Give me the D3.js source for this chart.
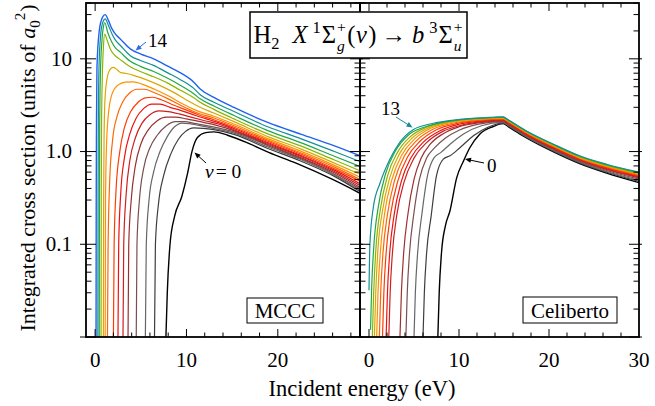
<!DOCTYPE html>
<html>
<head>
<meta charset="UTF-8">
<style>
  body { margin: 0; background: #fff; }
  text { font-family: 'Liberation Serif', 'Times New Roman', serif; fill: #000; }
</style>
</head>
<body>
<svg id="chart" width="655" height="406"></svg>
<script src="https://d3js.org/d3.v7.min.js"></script>
<script>
// colours for v = 0 .. 14
const vibColors = ["#000000", "#3d3d3d", "#666666", "#7a4f4f", "#9b3030", "#cc1f1f", "#ee1111",
  "#ff3c00", "#ff6600", "#ff9000", "#d8a800", "#8cb400", "#22a844", "#138f95", "#1f63f0"];

// MCCC, v = 0 .. 14 : incident energy (eV) and cross section (a0^2)
const mcccEnergy = [
  [7.75, 7.9, 8.2, 8.7, 9.5, 10.1, 10.6, 11.2, 12.1, 13.0, 14.5, 17, 19, 22, 26, 29],
  [6.5, 6.6, 6.95, 7.5, 8.3, 9.1, 9.9, 10.8, 11.8, 13, 15.2, 18.9, 22.5, 26.2, 29],
  [5.5, 5.6, 5.9, 6.4, 7.1, 7.9, 8.7, 9.5, 10.3, 11.5, 12.7, 15.2, 18.9, 22.5, 26.2, 29],
  [4.5, 4.58, 4.85, 5.3, 6.0, 6.8, 7.8, 8.8, 9.8, 11, 12.5, 15.2, 18.9, 22.5, 26.2, 29],
  [3.6, 3.68, 3.95, 4.4, 5.0, 5.8, 6.8, 7.8, 8.8, 10, 11.5, 13, 15.2, 18.9, 22.5, 26.2, 29],
  [3.05, 3.13, 3.4, 3.8, 4.4, 5.1, 6.0, 7.0, 8.0, 9.2, 10.5, 12, 13.5, 15.2, 18.9, 22.5, 26.2, 29],
  [2.5, 2.58, 2.8, 3.2, 3.8, 4.5, 5.3, 6.2, 7.1, 8.2, 9.5, 11, 12.5, 13.5, 15.2, 18.9, 22.5, 26.2, 29],
  [2.0, 2.08, 2.3, 2.7, 3.2, 3.9, 4.7, 5.5, 6.3, 7.3, 8.5, 10, 11.5, 13, 15.2, 18.9, 22.5, 26.2, 29],
  [1.35, 1.42, 1.6, 1.9, 2.4, 3.0, 3.8, 4.6, 5.4, 6.5, 8, 9.5, 11, 13, 15.2, 18.9, 22.5, 26.2, 29],
  [1.1, 1.14, 1.25, 1.5, 1.9, 2.5, 3.3, 4.2, 5.2, 6.5, 8, 9.5, 11, 13, 15.2, 18.9, 22.5, 26.2, 29],
  [0.9, 0.93, 0.98, 1.1, 1.4, 1.75, 2.0, 2.35, 2.8, 3.4, 4.3, 5.5, 7, 8.5, 10, 11.5, 13, 15.2, 18.9, 22.5, 26.2, 29],
  [0.65, 0.67, 0.7, 0.78, 0.9, 1.05, 1.3, 1.7, 2.2, 2.75, 3.85, 4.95, 6.4, 7.9, 9.3, 10.8, 11.5, 13, 15.2, 18.9, 22.5, 26.2, 29],
  [0.45, 0.47, 0.5, 0.58, 0.75, 0.9, 1.05, 1.4, 1.85, 2.2, 2.75, 3.85, 4.95, 6.4, 7.9, 9.3, 10.8, 11.5, 13, 15.2, 18.9, 22.5, 26.2, 29],
  [0.3, 0.32, 0.35, 0.42, 0.6, 0.85, 1.1, 1.45, 1.85, 2.2, 2.75, 3.85, 4.95, 6.4, 7.9, 9.3, 10.8, 11.5, 13, 15.2, 18.9, 22.5, 26.2, 29],
  [0.1, 0.12, 0.15, 0.2, 0.45, 0.8, 1.1, 1.45, 1.85, 2.2, 2.75, 3.85, 4.95, 6.4, 7.9, 9.3, 10.8, 11.5, 13, 15.2, 18.9, 22.5, 26.2, 29]
];
const mcccSigma = [
  [0.01, 0.03, 0.1, 0.2, 0.33, 0.57, 1.0, 1.42, 1.6, 1.63, 1.5, 1.2, 0.98, 0.75, 0.5, 0.355],
  [0.01, 0.1, 0.28, 0.55, 0.95, 1.35, 1.65, 1.8, 1.78, 1.72, 1.53, 1.08, 0.79, 0.54, 0.37],
  [0.01, 0.1, 0.3, 0.6, 1.0, 1.45, 1.85, 2.03, 2.0, 1.9, 1.8, 1.58, 1.12, 0.82, 0.555, 0.38],
  [0.01, 0.1, 0.3, 0.65, 1.1, 1.5, 1.9, 2.1, 2.1, 2.0, 1.88, 1.63, 1.16, 0.84, 0.57, 0.395],
  [0.01, 0.1, 0.3, 0.7, 1.2, 1.7, 2.15, 2.35, 2.35, 2.25, 2.1, 1.95, 1.68, 1.19, 0.86, 0.59, 0.41],
  [0.01, 0.1, 0.35, 0.8, 1.4, 2.0, 2.5, 2.75, 2.7, 2.55, 2.35, 2.15, 1.98, 1.72, 1.22, 0.89, 0.61, 0.43],
  [0.01, 0.1, 0.35, 0.85, 1.55, 2.3, 2.9, 3.25, 3.25, 3.0, 2.75, 2.45, 2.2, 2.05, 1.77, 1.25, 0.91, 0.63, 0.45],
  [0.01, 0.1, 0.4, 1.0, 1.8, 2.7, 3.4, 3.8, 3.85, 3.6, 3.2, 2.8, 2.45, 2.2, 1.83, 1.29, 0.94, 0.65, 0.48],
  [0.01, 0.1, 0.5, 1.3, 2.4, 3.4, 4.3, 4.7, 4.7, 4.3, 3.7, 3.1, 2.65, 2.3, 1.9, 1.33, 0.97, 0.68, 0.5],
  [0.01, 0.3, 1.2, 2.8, 4.3, 5.2, 5.6, 5.65, 5.3, 4.7, 4.0, 3.3, 2.8, 2.4, 1.98, 1.38, 1.01, 0.71, 0.53],
  [0.01, 0.3, 1.5, 4, 6.8, 7.9, 8.1, 7.7, 7.1, 6.95, 6.6, 6.0, 5.2, 4.4, 3.6, 3.0, 2.6, 2.1, 1.45, 1.07, 0.75, 0.57],
  [0.01, 0.3, 1.8, 6, 13, 18.5, 16, 12.5, 10.8, 9.8, 8.2, 7.3, 6.4, 5.5, 4.6, 3.8, 3.4, 2.85, 2.25, 1.55, 1.15, 0.81, 0.62],
  [0.01, 0.3, 2, 7, 16, 22, 24.5, 19, 15, 13.2, 11.8, 9.4, 8.3, 7.3, 6.2, 5.2, 4.2, 3.7, 3.1, 2.45, 1.68, 1.25, 0.89, 0.69],
  [0.01, 0.3, 2, 8, 18, 25, 27, 23, 18.5, 16, 14, 10.8, 9.6, 8.5, 7.1, 6.0, 4.8, 4.1, 3.4, 2.7, 1.85, 1.38, 1.0, 0.78],
  [0.01, 0.3, 2.1, 8, 20, 28, 30, 26, 21, 18.6, 16.4, 12.8, 11.3, 10, 8.4, 7.1, 5.6, 4.72, 3.84, 2.99, 2.06, 1.54, 1.15, 0.9]
];

// Celiberto, v = 0 .. 13
const celEnergy = [
  [7.65, 7.8, 8.05, 8.5, 9.0, 9.74, 10.5, 11.2, 12.3, 13.8, 14.9, 15.5, 17.5, 20.5, 23.4, 26.4, 30],
  [6.0, 6.15, 6.4, 6.9, 7.5, 8.26, 9.0, 10.1, 11.6, 13.2, 14.9, 15.5, 17.5, 20.5, 23.4, 26.4, 30],
  [5.0, 5.15, 5.4, 5.9, 6.5, 7.2, 8.0, 9.0, 10.5, 12.5, 14.9, 15.5, 17.5, 20.5, 23.4, 26.4, 30],
  [4.1, 4.25, 4.5, 5.0, 5.6, 6.4, 7.3, 8.5, 10, 12.2, 14.9, 15.5, 17.5, 20.5, 23.4, 26.4, 30],
  [3.44, 3.6, 3.85, 4.35, 5.0, 5.8, 6.8, 8.2, 10, 12.3, 14.9, 15.5, 17.5, 20.5, 23.4, 26.4, 30],
  [2.2, 2.35, 2.6, 3.1, 3.9, 5.0, 6.4, 8.2, 10.3, 12.6, 14.9, 15.5, 17.5, 20.5, 23.4, 26.4, 30],
  [1.9, 2.05, 2.3, 2.8, 3.6, 4.7, 6.1, 7.9, 10, 12.5, 14.9, 15.5, 17.5, 20.5, 23.4, 26.4, 30],
  [1.5, 1.65, 1.9, 2.4, 3.2, 4.3, 5.7, 7.5, 9.7, 12.3, 14.9, 15.5, 17.5, 20.5, 23.4, 26.4, 30],
  [1.15, 1.3, 1.55, 2.05, 2.85, 3.95, 5.35, 7.15, 9.4, 12.2, 14.9, 15.5, 17.5, 20.5, 23.4, 26.4, 30],
  [0.85, 1.0, 1.25, 1.75, 2.55, 3.65, 5.05, 6.85, 9.1, 12, 14.9, 15.5, 17.5, 20.5, 23.4, 26.4, 30],
  [0.6, 0.75, 1.0, 1.5, 2.3, 3.4, 4.8, 6.6, 8.9, 11.9, 14.9, 15.5, 17.5, 20.5, 23.4, 26.4, 30],
  [0.37, 0.52, 0.77, 1.27, 2.07, 3.17, 4.57, 6.4, 8.7, 11.8, 14.9, 15.5, 17.5, 20.5, 23.4, 26.4, 30],
  [0.17, 0.3, 0.55, 1.05, 1.85, 2.95, 4.35, 6.2, 8.6, 11.7, 14.9, 15.5, 17.5, 20.5, 23.4, 26.4, 30],
  [0.0, 0.1, 0.48, 1.2, 2.3, 3.4, 4.9, 7.15, 10.1, 13.8, 14.9, 15.5, 17.5, 20.5, 23.4, 26.4, 30]
];
const celSigma = [
  [0.01, 0.03, 0.08, 0.16, 0.23, 0.52, 0.79, 1.1, 1.54, 1.86, 2.0, 1.85, 1.4, 0.99, 0.74, 0.585, 0.462],
  [0.01, 0.03, 0.08, 0.2, 0.55, 0.83, 0.9, 1.1, 1.48, 1.83, 2.03, 1.88, 1.425, 1.01, 0.755, 0.598, 0.477],
  [0.01, 0.03, 0.08, 0.22, 0.55, 0.85, 0.98, 1.2, 1.55, 1.9, 2.06, 1.905, 1.445, 1.03, 0.77, 0.61, 0.49],
  [0.01, 0.03, 0.08, 0.22, 0.5, 0.85, 1.1, 1.4, 1.7, 1.98, 2.1, 1.94, 1.475, 1.05, 0.785, 0.625, 0.505],
  [0.01, 0.03, 0.08, 0.22, 0.5, 0.85, 1.2, 1.55, 1.85, 2.05, 2.14, 1.98, 1.5, 1.07, 0.8, 0.64, 0.52],
  [0.01, 0.03, 0.08, 0.21, 0.47, 0.85, 1.25, 1.65, 1.93, 2.1, 2.18, 2.015, 1.53, 1.09, 0.815, 0.65, 0.53],
  [0.01, 0.03, 0.08, 0.21, 0.48, 0.87, 1.28, 1.68, 1.97, 2.14, 2.21, 2.045, 1.555, 1.11, 0.825, 0.665, 0.54],
  [0.01, 0.03, 0.08, 0.21, 0.48, 0.88, 1.3, 1.72, 2.0, 2.17, 2.24, 2.07, 1.575, 1.125, 0.84, 0.675, 0.55],
  [0.01, 0.03, 0.08, 0.21, 0.49, 0.9, 1.33, 1.75, 2.03, 2.2, 2.27, 2.1, 1.595, 1.14, 0.85, 0.685, 0.56],
  [0.01, 0.03, 0.08, 0.22, 0.5, 0.92, 1.36, 1.78, 2.06, 2.22, 2.29, 2.12, 1.61, 1.155, 0.86, 0.695, 0.57],
  [0.01, 0.03, 0.09, 0.23, 0.52, 0.95, 1.4, 1.8, 2.08, 2.24, 2.31, 2.14, 1.625, 1.165, 0.87, 0.705, 0.578],
  [0.01, 0.03, 0.09, 0.24, 0.55, 0.98, 1.44, 1.83, 2.1, 2.26, 2.33, 2.155, 1.64, 1.18, 0.88, 0.715, 0.585],
  [0.012, 0.035, 0.1, 0.26, 0.58, 1.02, 1.5, 1.84, 2.1, 2.28, 2.35, 2.175, 1.655, 1.19, 0.89, 0.72, 0.59],
  [0.032, 0.1, 0.25, 0.45, 0.82, 1.25, 1.72, 2.02, 2.22, 2.33, 2.37, 2.19, 1.67, 1.2, 0.9, 0.73, 0.6]
];

const yTickValues = [0.1, 1, 10];
const yTickLabels = ["0.1", "1.0", "10"];
const xTicksLeft = [0, 10, 20];
const xTicksRight = [0, 10, 20, 30];

const svg = d3.select("#chart");
const plotTop = 3, plotBottom = 337;
const y = d3.scaleLog().domain([0.01, 40]).range([plotBottom, plotTop]);
const xL = d3.scaleLinear().domain([-1, 29]).range([86, 360]);
const xR = d3.scaleLinear().domain([-1, 30]).range([360, 639]);

const defs = svg.append("defs");
function clip(id, x) {
  defs.append("clipPath").attr("id", id).append("rect")
    .attr("x", x.range()[0]).attr("y", plotTop).attr("width", x.range()[1] - x.range()[0]).attr("height", plotBottom - plotTop);
}
clip("clipL", xL);
clip("clipR", xR);

function drawCurves(x, energies, sigmas, clipId) {
  const line = d3.line().x(d => x(d[0])).y(d => y(d[1])).curve(d3.curveMonotoneX);
  const g = svg.append("g").attr("clip-path", `url(#${clipId})`);
  energies.forEach((es, v) => {
    const pts = es.map((e, k) => [e, sigmas[v][k]]);
    g.append("path").attr("d", line(pts))
      .attr("fill", "none").attr("stroke", vibColors[v])
      .attr("stroke-width", v === 0 || v === vibColors.length - 1 ? 1.4 : 1.2);
  });
}
drawCurves(xL, mcccEnergy, mcccSigma, "clipL");
drawCurves(xR, celEnergy, celSigma, "clipR");

// frames and ticks
const yTicks = y.ticks();
function frame(x, xMax, leftOuter) {
  const [x0, x1] = x.range();
  const g = svg.append("g").attr("stroke", "#000");
  yTicks.forEach(t => {
    const major = Math.abs(Math.log10(t) - Math.round(Math.log10(t))) < 1e-6;
    const len = major ? 10 : 5.5;
    g.append("line").attr("x1", x0 - (major && leftOuter ? 6 : 0)).attr("x2", x0 + len)
      .attr("y1", y(t)).attr("y2", y(t)).attr("stroke-width", 1);
    g.append("line").attr("x1", x1 - len).attr("x2", x1 + (major ? 3 : 0))
      .attr("y1", y(t)).attr("y2", y(t)).attr("stroke-width", 1);
  });
  d3.range(0, xMax + 0.1, 2).forEach(t => {
    const major = t % 10 === 0;
    const len = major ? 8 : 4.5;
    if (x(t) >= x1 - 0.5) return;
    g.append("line").attr("x1", x(t)).attr("x2", x(t)).attr("y1", plotBottom).attr("y2", plotBottom - len).attr("stroke-width", 1);
    g.append("line").attr("x1", x(t)).attr("x2", x(t)).attr("y1", plotTop).attr("y2", plotTop + len).attr("stroke-width", 1);
  });
  g.append("rect").attr("x", x0).attr("y", plotTop).attr("width", x1 - x0).attr("height", plotBottom - plotTop)
    .attr("fill", "none").attr("stroke-width", 1.8);
}
frame(xL, 28, true);
frame(xR, 30, false);

// tick labels
yTickValues.forEach((t, k) => {
  svg.append("text").attr("x", 72).attr("y", y(t) + 6.8).attr("text-anchor", "end")
    .attr("font-size", 21).text(yTickLabels[k]);
});
xTicksLeft.forEach(t => svg.append("text").attr("x", xL(t)).attr("y", 367)
  .attr("text-anchor", "middle").attr("font-size", 21).text(t));
xTicksRight.forEach(t => svg.append("text").attr("x", xR(t)).attr("y", 367)
  .attr("text-anchor", "middle").attr("font-size", 21).text(t));

// rich text helper: pieces laid out one after the other;
// a stacked superscript/subscript pair goes into one text element
function rich(parent, parts, base) {
  let x = 0;
  function width(p) {
    const t = parent.append("text").attr("font-size", p.size || base)
      .attr("font-style", p.it ? "italic" : null).text(p.t);
    const w = t.node().getComputedTextLength();
    t.remove();
    return w;
  }
  function put(p) {
    parent.append("text").attr("x", x).attr("y", p.dy || 0)
      .attr("font-size", p.size || base).attr("font-style", p.it ? "italic" : null).text(p.t);
    return width(p) + (p.gap || 0);
  }
  parts.forEach(p => {
    if (p.stack) {
      const t = parent.append("text");
      p.stack.forEach(s => t.append("tspan").attr("x", x).attr("y", s.dy)
        .attr("font-size", s.size || base).attr("font-style", s.it ? "italic" : null).text(s.t));
      x += Math.max(...p.stack.map(width)) + (p.gap || 0);
    } else x += put(p);
  });
  return x;
}

svg.append("text").attr("x", 362).attr("y", 396).attr("text-anchor", "middle")
  .attr("font-size", 22.5).text("Incident energy (eV)");

const yl = svg.append("g");
const ylw = rich(yl, [
  { t: "Integrated cross section (units of", gap: 5.5 },
  { t: "a", it: true },
  { t: "0", size: 15, dy: 5 },
  { t: "2", size: 15, dy: -10, gap: 1 },
  { t: ")" }
], 22);
yl.attr("transform", `translate(35,${168 + ylw / 2}) rotate(-90)`);

// title box
svg.append("rect").attr("x", 250).attr("y", 12).attr("width", 217).attr("height", 46)
  .attr("fill", "#fff").attr("stroke", "#000").attr("stroke-width", 1.5);
const tg = svg.append("g");
const tw = rich(tg, [
  { t: "H" }, { t: "2", size: 16.5, dy: 6, gap: 13 },
  { t: "X", it: true, gap: 5 }, { t: "1", size: 16.5, dy: -10, gap: 1 },
  { t: "Σ", gap: 1 }, { stack: [{ t: "+", size: 15.5, dy: -11.5 }, { t: "g", it: true, size: 15.5, dy: 7.5 }], gap: 1.5 },
  { t: "(", gap: 0.5 }, { t: "v", it: true, gap: 1.5 }, { t: ")", gap: 5 }, { t: "→", gap: 6 },
  { t: "b", it: true, gap: 5 }, { t: "3", size: 16.5, dy: -10, gap: 1 },
  { t: "Σ", gap: 1 }, { stack: [{ t: "+", size: 15.5, dy: -11.5 }, { t: "u", it: true, size: 15.5, dy: 7.5 }] }
], 24.5);
tg.attr("transform", `translate(${358 - tw / 2},43)`);

// model boxes
function labelBox(x, yb, w, h, txt) {
  svg.append("rect").attr("x", x).attr("y", yb).attr("width", w).attr("height", h)
    .attr("fill", "#fff").attr("stroke", "#000").attr("stroke-width", 1);
  svg.append("text").attr("x", x + w / 2).attr("y", yb + h - 5).attr("text-anchor", "middle")
    .attr("font-size", 21).text(txt);
}
labelBox(247, 298, 76, 25, "MCCC");
labelBox(523, 297, 94, 26, "Celiberto");

// annotations
function arrow(x1, y1, x2, y2, color) {
  const a = Math.atan2(y2 - y1, x2 - x1), L = 6, W = 2.6;
  svg.append("line").attr("x1", x1).attr("y1", y1).attr("x2", x2 - L * 0.7 * Math.cos(a)).attr("y2", y2 - L * 0.7 * Math.sin(a))
    .attr("stroke", color).attr("stroke-width", 1);
  const bx = x2 - L * Math.cos(a), by = y2 - L * Math.sin(a);
  svg.append("path").attr("fill", color).attr("d",
    `M${x2},${y2}L${bx - W * Math.sin(a)},${by + W * Math.cos(a)}L${bx + W * Math.sin(a)},${by - W * Math.cos(a)}Z`);
}
svg.append("text").attr("x", 148).attr("y", 47).attr("font-size", 19).attr("fill", "#2b6be6").text("14");
arrow(146, 42, 135.5, 50.5, "#2b6be6");

const v0l = svg.append("g").attr("transform", "translate(205,178)");
rich(v0l, [{ t: "v", it: true, gap: 2 }, { t: " = 0" }], 19.5);
arrow(206, 163, 194.5, 152.5, "#000");

svg.append("text").attr("x", 381).attr("y", 115).attr("font-size", 19).attr("fill", "#1a8a9a").text("13");
arrow(396, 117, 412.5, 127.5, "#1a8a9a");

svg.append("text").attr("x", 487).attr("y", 172).attr("font-size", 19).text("0");
arrow(484, 163, 465, 159, "#000");
</script>
</body>
</html>
